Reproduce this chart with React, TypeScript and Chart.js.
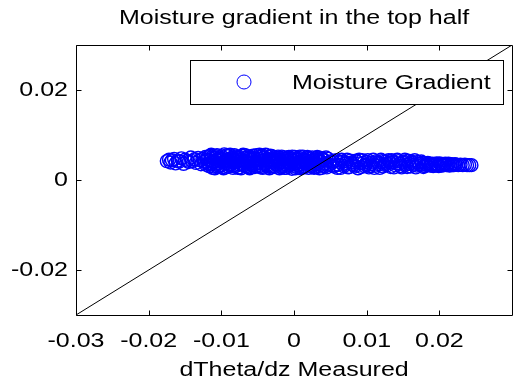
import React, { useEffect, useRef } from "react";
import { Chart, registerables } from "chart.js";

Chart.register(...registerables);

const chartTitle = "Moisture gradient in the top half";
const xAxisTitle = "dTheta/dz Measured";
const seriesLabel = "Moisture Gradient";

const xTicks = [-0.03, -0.02, -0.01, 0, 0.01, 0.02];
const yTicks = [-0.02, 0, 0.02];
const xRange = [-0.03, 0.03];
const yRange = [-0.03, 0.03];

const refLineX = [-0.03, 0.03];
const refLineY = [-0.03, 0.03];

const gradX = [
  -0.0175, -0.0172, -0.0170, -0.0168, -0.0165, -0.0163, -0.0160, -0.0158, -0.0155, -0.0152,
  -0.0150, -0.0147, -0.0145, -0.0142, -0.0140, -0.0137, -0.0135, -0.0132, -0.0130, -0.0128,
  -0.0126, -0.0124, -0.0122, -0.0121, -0.0120,
  -0.0118, -0.0117, -0.0115, -0.0114, -0.0112, -0.0111, -0.0109, -0.0108, -0.0106, -0.0105,
  -0.0103, -0.0102, -0.0100, -0.0099, -0.0097, -0.0096, -0.0094, -0.0093, -0.0091, -0.0090,
  -0.0088, -0.0087, -0.0085, -0.0084, -0.0082, -0.0081, -0.0079, -0.0078, -0.0076, -0.0075,
  -0.0073, -0.0072, -0.0070, -0.0069, -0.0067, -0.0066, -0.0064, -0.0063, -0.0061, -0.0060,
  -0.0058, -0.0057, -0.0055, -0.0054, -0.0052, -0.0051, -0.0049, -0.0048, -0.0046, -0.0045,
  -0.0043, -0.0042, -0.0040, -0.0039, -0.0037, -0.0036, -0.0034, -0.0033, -0.0031, -0.0030,
  -0.0029, -0.0027, -0.0026, -0.0024, -0.0023, -0.0021, -0.0020, -0.0018, -0.0017, -0.0015,
  -0.0014, -0.0012, -0.0011, -0.0009, -0.0008, -0.0006, -0.0005, -0.0003, -0.0002, 0.0000,
  0.0001, 0.0003, 0.0004, 0.0006, 0.0007, 0.0009, 0.0010, 0.0012, 0.0013, 0.0015,
  0.0017, 0.0018, 0.0020, 0.0022, 0.0023, 0.0025, 0.0027, 0.0028, 0.0030, 0.0032,
  0.0034, 0.0035, 0.0037, 0.0039, 0.0041, 0.0043, 0.0045, 0.0047, 0.0049, 0.0050,
  0.0052, 0.0055, 0.0058, 0.0061, 0.0064, 0.0067, 0.0070, 0.0073, 0.0076, 0.0079,
  0.0082, 0.0085, 0.0088, 0.0091, 0.0094, 0.0097, 0.0100, 0.0103, 0.0106, 0.0109,
  0.0112, 0.0115, 0.0118, 0.0121, 0.0124, 0.0127, 0.0130, 0.0133, 0.0136, 0.0139,
  0.0142, 0.0145, 0.0148, 0.0151, 0.0154, 0.0157, 0.0160, 0.0163, 0.0166, 0.0169,
  0.0172, 0.0175, 0.0178,
  0.0181, 0.0184, 0.0187, 0.0190, 0.0193, 0.0196, 0.0199, 0.0202, 0.0205, 0.0208,
  0.0211, 0.0214, 0.0217, 0.0220, 0.0223, 0.0226, 0.0229, 0.0232, 0.0235, 0.0238,
  0.0241, 0.0244,
  -0.01195, -0.01165, -0.01135, -0.01105, -0.01075, -0.01045, -0.01015, -0.00985, -0.00955, -0.00925,
  -0.00895, -0.00865, -0.00835, -0.00805, -0.00775, -0.00745, -0.00715, -0.00685, -0.00655, -0.00625,
  -0.00595, -0.00565, -0.00535, -0.00505, -0.00475, -0.00445, -0.00415, -0.00385, -0.00355, -0.00325,
  -0.00295, -0.00265, -0.00235, -0.00205, -0.00175, -0.00145, -0.00115, -0.00085, -0.00055, -0.00025,
  0.00005, 0.00035, 0.00065, 0.00095, 0.00125, 0.00155, 0.00185, 0.00215, 0.00245, 0.00275,
  0.00305, 0.00335, 0.00365, 0.00395, 0.00425,
  -0.01180, -0.01150, -0.01120, -0.01090, -0.01060, -0.01030, -0.01000, -0.00970, -0.00940, -0.00910,
  -0.00880, -0.00850, -0.00820, -0.00790, -0.00760, -0.00730, -0.00700, -0.00670, -0.00640, -0.00610,
  -0.00580, -0.00550, -0.00520, -0.00490, -0.00460, -0.00430, -0.00400, -0.00370, -0.00340, -0.00310,
  -0.00280, -0.00250, -0.00220, -0.00190, -0.00160, -0.00130, -0.00100, -0.00070, -0.00040, -0.00010,
  0.00020, 0.00050, 0.00080, 0.00110, 0.00140, 0.00170, 0.00200, 0.00230, 0.00260, 0.00290,
  0.00320, 0.00350, 0.00380, 0.00410, 0.00440,
  0.00535, 0.00565, 0.00595, 0.00625, 0.00655, 0.00685, 0.00715, 0.00745, 0.00775, 0.00805,
  0.00835, 0.00865, 0.00895, 0.00925, 0.00955, 0.00985, 0.01015, 0.01045, 0.01075, 0.01105,
  0.01135, 0.01165, 0.01195, 0.01225, 0.01255, 0.01285, 0.01315, 0.01345, 0.01375, 0.01405,
  0.01435, 0.01465, 0.01495, 0.01525, 0.01555, 0.01585, 0.01615, 0.01645, 0.01675, 0.01705,
  0.01735, 0.01765, 0.01795,
  0.01825, 0.01855, 0.01885, 0.01915, 0.01945, 0.01975, 0.02005, 0.02035, 0.02065, 0.02095,
  0.02125, 0.02155, 0.02185, 0.02215,
];

const gradY = [
  0.0042, 0.0045, 0.0039, 0.0044, 0.0047, 0.0037, 0.0043, 0.0041, 0.0048, 0.0036,
  0.0045, 0.0043, 0.0040, 0.0050, 0.0042, 0.0046, 0.0038, 0.0049, 0.0044, 0.0035,
  0.0047, 0.0041, 0.0051, 0.0034, 0.0045,
  0.0052, 0.0031, 0.0044, 0.0056, 0.0027, 0.0039, 0.0048, 0.0034, 0.0055, 0.0029,
  0.0042, 0.0050, 0.0033, 0.0046, 0.0026, 0.0057, 0.0038, 0.0044, 0.0030, 0.0053,
  0.0041, 0.0036, 0.0049, 0.0027, 0.0055, 0.0045, 0.0032, 0.0040, 0.0051, 0.0028,
  0.0047, 0.0035, 0.0056, 0.0043, 0.0030, 0.0049, 0.0038, 0.0053, 0.0026, 0.0045,
  0.0033, 0.0050, 0.0041, 0.0029, 0.0055, 0.0037, 0.0047, 0.0031, 0.0052, 0.0043,
  0.0027, 0.0048, 0.0035, 0.0056, 0.0040, 0.0030, 0.0051, 0.0044, 0.0028, 0.0046,
  0.0038, 0.0051, 0.0029, 0.0044, 0.0034, 0.0049, 0.0026, 0.0041, 0.0052, 0.0031,
  0.0046, 0.0036, 0.0027, 0.0050, 0.0040, 0.0033, 0.0047, 0.0025, 0.0043, 0.0037,
  0.0051, 0.0029, 0.0045, 0.0034, 0.0049, 0.0026, 0.0041, 0.0052, 0.0031, 0.0044,
  0.0036, 0.0048, 0.0027, 0.0040, 0.0033, 0.0050, 0.0038, 0.0029, 0.0046, 0.0035,
  0.0042, 0.0026, 0.0049, 0.0032, 0.0044, 0.0037, 0.0028, 0.0047, 0.0034, 0.0041,
  0.0038, 0.0030, 0.0044, 0.0034, 0.0027, 0.0041, 0.0036, 0.0045, 0.0029, 0.0039,
  0.0033, 0.0043, 0.0026, 0.0037, 0.0044, 0.0031, 0.0040, 0.0028, 0.0035, 0.0045,
  0.0032, 0.0039, 0.0027, 0.0042, 0.0034, 0.0037, 0.0044, 0.0029, 0.0040, 0.0033,
  0.0045, 0.0036, 0.0028, 0.0041, 0.0034, 0.0043, 0.0030, 0.0038, 0.0044, 0.0032,
  0.0036, 0.0041, 0.0029,
  0.0035, 0.0038, 0.0032, 0.0036, 0.0034, 0.0037, 0.0031, 0.0035, 0.0033, 0.0036,
  0.0034, 0.0032, 0.0035, 0.0033, 0.0034, 0.0033, 0.0034, 0.0033, 0.0034, 0.0033,
  0.0033, 0.0033,
  0.0045, 0.0035, 0.0050, 0.0030, 0.0053, 0.0037, 0.0047, 0.0029, 0.0042, 0.0055,
  0.0034, 0.0046, 0.0039, 0.0052, 0.0027, 0.0044, 0.0054, 0.0033, 0.0041, 0.0048,
  0.0029, 0.0054, 0.0036, 0.0044, 0.0056, 0.0032, 0.0050, 0.0038, 0.0046, 0.0054,
  0.0031, 0.0042, 0.0048, 0.0036, 0.0028, 0.0050, 0.0043, 0.0030, 0.0039, 0.0052,
  0.0032, 0.0048, 0.0040, 0.0029, 0.0046, 0.0038, 0.0051, 0.0034, 0.0043, 0.0027,
  0.0049, 0.0031, 0.0040, 0.0047, 0.0030,
  0.0037, 0.0054, 0.0041, 0.0026, 0.0045, 0.0032, 0.0053, 0.0040, 0.0028, 0.0047,
  0.0056, 0.0031, 0.0043, 0.0049, 0.0035, 0.0026, 0.0040, 0.0055, 0.0029, 0.0050,
  0.0038, 0.0047, 0.0031, 0.0039, 0.0028, 0.0054, 0.0045, 0.0033, 0.0026, 0.0053,
  0.0044, 0.0036, 0.0052, 0.0045, 0.0034, 0.0027, 0.0047, 0.0051, 0.0035, 0.0044,
  0.0026, 0.0038, 0.0052, 0.0035, 0.0028, 0.0042, 0.0049, 0.0030, 0.0045, 0.0036,
  0.0051, 0.0044, 0.0027, 0.0036, 0.0050,
  0.0042, 0.0033, 0.0027, 0.0040, 0.0045, 0.0031, 0.0038, 0.0028, 0.0043, 0.0036,
  0.0030, 0.0041, 0.0045, 0.0029, 0.0038, 0.0034, 0.0044, 0.0031, 0.0039, 0.0027,
  0.0042, 0.0035, 0.0045, 0.0030, 0.0041, 0.0033, 0.0039, 0.0044, 0.0028, 0.0037,
  0.0042, 0.0031, 0.0039, 0.0045, 0.0029, 0.0036, 0.0041, 0.0034, 0.0028, 0.0040,
  0.0033, 0.0038, 0.0031,
  0.0033, 0.0036, 0.0034, 0.0031, 0.0035, 0.0033, 0.0037, 0.0032, 0.0035, 0.0033,
  0.0036, 0.0034, 0.0033, 0.0035,
];

const FONT = '"Liberation Sans", Arial, Helvetica, sans-serif';
const SX = 1.25;
const BLUE = "#0000ff";

const boxPlugin = {
  id: "matlabBox",
  afterDraw(chart: any) {
    const { ctx, chartArea: ca, scales } = chart;
    const L = Math.round(ca.left) + 0.5;
    const R = Math.round(ca.right) + 0.5;
    const T = Math.round(ca.top) + 0.5;
    const B = Math.round(ca.bottom) + 0.5;
    ctx.save();
    ctx.strokeStyle = "#000";
    ctx.lineWidth = 1;
    ctx.beginPath();
    ctx.moveTo(L, T); ctx.lineTo(R, T); ctx.lineTo(R, B); ctx.lineTo(L, B); ctx.closePath();
    const tl = 5;
    xTicks.forEach((v) => {
      const px = Math.round(scales.x.getPixelForValue(v)) + 0.5;
      ctx.moveTo(px, B); ctx.lineTo(px, B - tl);
      ctx.moveTo(px, T); ctx.lineTo(px, T + tl);
    });
    yTicks.forEach((v) => {
      const py = Math.round(scales.y.getPixelForValue(v)) + 0.5;
      ctx.moveTo(L, py); ctx.lineTo(L + tl, py);
      ctx.moveTo(R, py); ctx.lineTo(R - tl, py);
    });
    ctx.stroke();

    // legend
    const bx = Math.round(ca.left) + 114;
    const by = Math.round(ca.top) + 15;
    const bw = 313;
    const bh = 44;
    ctx.fillStyle = "#fff";
    ctx.fillRect(bx, by, bw, bh);
    ctx.strokeStyle = "#000";
    ctx.strokeRect(bx + 0.5, by + 0.5, bw, bh);
    ctx.beginPath();
    ctx.strokeStyle = BLUE;
    ctx.arc(bx + 54, by + 22, 7, 0, Math.PI * 2);
    ctx.stroke();
    ctx.fillStyle = "#000";
    ctx.font = `20px ${FONT}`;
    ctx.textAlign = "left";
    ctx.textBaseline = "middle";
    ctx.fillText(seriesLabel, bx + 102, by + 23);
    ctx.restore();
  },
};

export default function App() {
  const ref = useRef<HTMLCanvasElement | null>(null);

  useEffect(() => {
    const canvas = ref.current;
    if (!canvas) return;
    const ctx: any = canvas.getContext("2d");
    const orig = CanvasRenderingContext2D.prototype.fillText;
    ctx.fillText = function (text: string, x: number, y: number) {
      this.save();
      this.translate(x, y);
      this.scale(SX, 1);
      orig.call(this, text, 0, 0);
      this.restore();
    };

    const points = gradX.map((x, i) => ({ x, y: gradY[i] }));
    const linePts = refLineX.map((x, i) => ({ x, y: refLineY[i] }));

    const chart = new Chart(ctx, {
      type: "scatter",
      data: {
        datasets: [
          {
            type: "line",
            label: "y = x",
            data: linePts,
            borderColor: "#000",
            borderWidth: 1,
            pointRadius: 0,
            showLine: true,
            fill: false,
            order: 0,
          } as any,
          {
            label: seriesLabel,
            data: points,
            pointStyle: "circle",
            pointRadius: 6.5,
            borderWidth: 1.4,
            borderColor: BLUE,
            backgroundColor: "rgba(0,0,0,0)",
            order: 1,
          },
        ],
      },
      options: {
        responsive: false,
        animation: false,
        devicePixelRatio: 1,
        events: [],
        layout: { padding: { left: 0, right: 3, top: 0, bottom: 0 } },
        plugins: {
          legend: { display: false },
          tooltip: { enabled: false },
          title: {
            display: true,
            fullSize: false,
            text: chartTitle,
            color: "#000",
            font: { family: FONT, size: 20, weight: "normal" as any, lineHeight: 1.2 },
            padding: { top: 6, bottom: 15 },
          },
        },
        scales: {
          x: {
            type: "linear",
            min: xRange[0],
            max: xRange[1],
            grid: { display: false, drawTicks: false },
            border: { display: false },
            afterBuildTicks: (s: any) => {
              s.ticks = xTicks.map((v) => ({ value: v }));
            },
            afterFit: (s: any) => {
              s.height = 72;
            },
            ticks: {
              autoSkip: false,
              maxRotation: 0,
              padding: 14,
              color: "#000",
              font: { family: FONT, size: 20 },
              callback: (v: any) => String(v),
            },
            title: {
              display: true,
              text: xAxisTitle,
              color: "#000",
              font: { family: FONT, size: 20, lineHeight: 1.2 },
              padding: { top: 0, bottom: 5 },
            },
          },
          y: {
            type: "linear",
            min: yRange[0],
            max: yRange[1],
            grid: { display: false, drawTicks: false },
            border: { display: false },
            afterBuildTicks: (s: any) => {
              s.ticks = yTicks.map((v) => ({ value: v }));
            },
            afterFit: (s: any) => {
              s.width = 76;
            },
            ticks: {
              autoSkip: false,
              padding: 8,
              color: "#000",
              font: { family: FONT, size: 20 },
              callback: (v: any) => String(v),
            },
          },
        },
      },
      plugins: [boxPlugin],
    });

    return () => {
      chart.destroy();
    };
  }, []);

  return (
    <div
      style={{
        position: "fixed",
        left: 0,
        top: 0,
        width: 515,
        height: 387,
        overflow: "hidden",
        background: "#fff",
      }}
    >
      <canvas ref={ref} width={520} height={387} style={{ display: "block", width: 520, height: 387 }} />
    </div>
  );
}
